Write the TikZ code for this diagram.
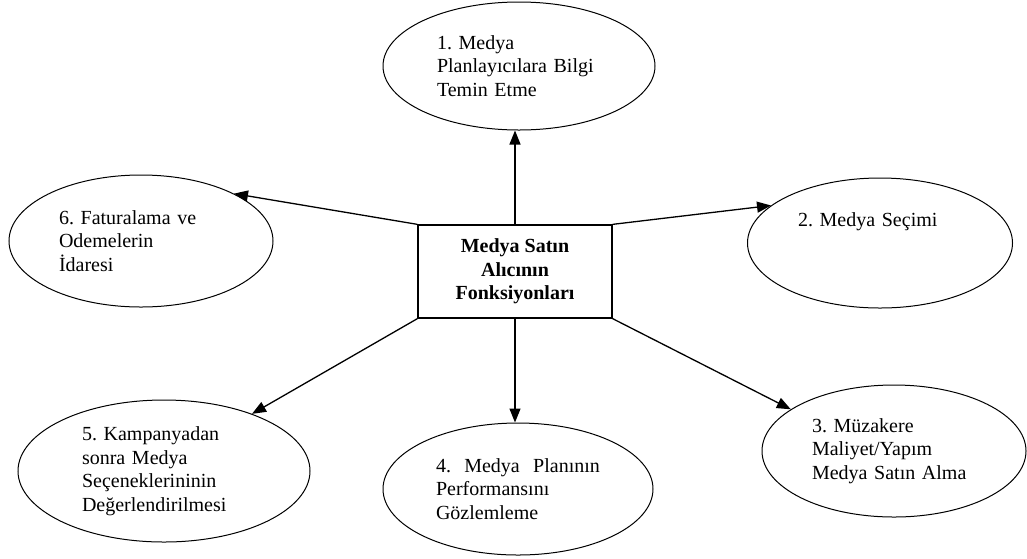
\documentclass[tikz,border=0pt]{standalone}
\usepackage{fontspec}
\setmainfont{Liberation Serif}
\usetikzlibrary{shapes.geometric,arrows.meta}
\frenchspacing

\begin{document}
\begin{tikzpicture}[every node/.style={inner sep=0pt, font=\fontsize{20}{23.5}\selectfont},
  task/.style={ellipse, draw=black, line width=1pt, text width=164pt, align=left},
  hub/.style={rectangle, draw=black, line width=1.3pt, minimum width=194pt, minimum height=93pt, align=center, font=\fontsize{20}{23.5}\selectfont\bfseries},
  link/.style={line width=1.3pt, -{Triangle[length=14pt,width=11pt]}}]
\useasboundingbox (0pt,0pt) rectangle (1027pt,-558pt);
\node (0) [hub] at (515.0pt, -271.5pt) {Medya Satın\\Alıcının\\Fonksiyonları};
\node (1) [task, minimum width=272pt, minimum height=128pt] at (519.0pt, -66.0pt) {1. Medya\\Planlayıcılara Bilgi\\Temin Etme};
\node (2) [task, minimum width=265pt, minimum height=130pt] at (880.0pt, -243.0pt) {2. Medya Seçimi\\~\\~};
\node (3) [task, minimum width=264pt, minimum height=132pt] at (894.0pt, -451.0pt) {3. Müzakere\\Maliyet/Yapım\\Medya Satın Alma};
\node (4) [task, minimum width=270pt, minimum height=132pt] at (518.0pt, -489.0pt) {4.~~Medya~~Planının\\Performansını\\Gözlemleme};
\node (5) [task, minimum width=292pt, minimum height=142pt] at (164.0pt, -471.0pt) {5. Kampanyadan\\sonra Medya\\Seçeneklerininin\\Değerlendirilmesi};
\node (6) [task, minimum width=264pt, minimum height=132pt] at (141.0pt, -241.0pt) {6. Faturalama ve\\Odemelerin\\İdaresi};
\draw [link] (0.north) to (0.north |- 1.south);
\draw [link] (0.north east) to (2.161);
\draw [link] (0.south east) to (3.158);
\draw [link] (0.south) to (0.south |- 4.north);
\draw [link] (0.south west) to (5.33);
\draw [link] (0.north west) to (6.27);
\end{tikzpicture}
\end{document}
